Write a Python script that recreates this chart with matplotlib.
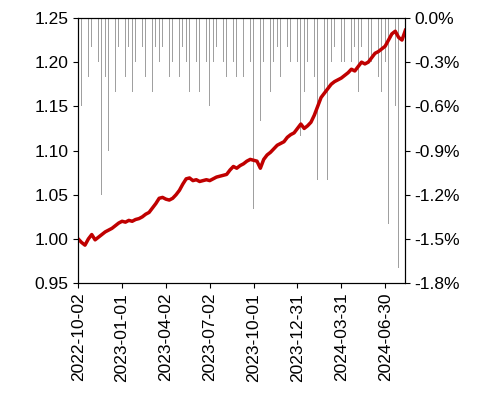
import matplotlib
matplotlib.use("Agg")
import matplotlib.pyplot as plt
import matplotlib.dates as mdates
import pandas as pd
from matplotlib.ticker import FuncFormatter

plt.rcParams['font.family'] = ['Liberation Sans', 'DejaVu Sans']

start = "2022-10-02"
nav = [1.000,0.996,0.993,1.000,1.005,
       0.999,1.002,1.005,1.008,
       1.010,1.012,1.015,1.018,
       1.020,1.019,1.021,1.020,1.022,
       1.023,1.025,1.028,1.030,
       1.035,1.040,1.046,1.047,
       1.045,1.044,1.046,1.050,1.055,
       1.062,1.068,1.069,1.066,
       1.067,1.065,1.066,1.067,
       1.066,1.068,1.070,1.071,1.072,
       1.073,1.078,1.082,1.080,
       1.083,1.085,1.088,1.090,
       1.089,1.088,1.080,1.090,1.095,
       1.098,1.102,1.106,1.108,
       1.110,1.115,1.118,1.120,1.125,
       1.130,1.125,1.128,1.132,
       1.140,1.150,1.160,1.165,
       1.170,1.175,1.178,1.180,1.182,
       1.185,1.188,1.192,1.190,
       1.195,1.200,1.198,1.200,
       1.205,1.210,1.212,1.215,1.218,
       1.225,1.232,1.235,1.228,
       1.225,1.236]
drawdown = [-0.3,-0.6,-0.8,-0.4,-0.2,
            -0.5,-0.3,-1.2,-0.4,
            -0.9,-0.3,-0.5,-0.2,
            -0.3,-0.4,-0.2,-0.5,-0.3,
            -0.7,-0.2,-0.4,-0.3,
            -0.5,-0.2,-0.3,-0.2,
            -0.6,-0.4,-0.3,-0.2,-0.4,
            -0.2,-0.3,-0.5,-0.4,
            -0.3,-0.5,-0.2,-0.3,
            -0.6,-0.3,-0.2,-0.4,-0.3,
            -0.4,-0.2,-0.3,-0.4,
            -0.3,-0.4,-0.2,-0.3,
            -1.3,-0.5,-0.7,-0.3,-0.2,
            -0.5,-0.3,-0.2,-0.4,
            -0.4,-0.2,-0.3,-0.2,-0.3,
            -0.8,-0.5,-0.3,-0.2,
            -0.4,-1.1,-0.3,-0.5,
            -1.1,-0.3,-0.2,-0.4,-0.3,
            -0.3,-0.2,-0.3,-0.2,
            -0.5,-0.2,-0.4,-0.3,
            -0.3,-0.2,-0.4,-0.5,-0.3,
            -1.4,-0.4,-0.6,-1.7,
            -0.8,-0.5]
dates = pd.date_range(start, periods=len(nav), freq="7D")
ticks = pd.date_range(start, periods=8, freq="91D")

fig = plt.figure(figsize=(4.89, 4.08), dpi=100)
ax = fig.add_axes([0.16, 0.306, 0.668, 0.65])
ax2 = ax.twinx()
ax2.bar(dates, drawdown, width=1.5, color="#a0a0a0", zorder=1)
ax2.set_ylim(-1.8, 0)
ax2.set_yticks([-1.8,-1.5,-1.2,-0.9,-0.6,-0.3,0.0])
ax2.yaxis.set_major_formatter(FuncFormatter(lambda v, p: f"{v:.1f}%"))
ax.set_zorder(ax2.get_zorder() + 1)
ax.patch.set_visible(False)
ax.plot(dates, nav, color="#c00000", lw=2.5)
ax.set_ylim(0.95, 1.25)
ax.set_yticks([0.95,1.00,1.05,1.10,1.15,1.20,1.25])
ax.yaxis.set_major_formatter(FuncFormatter(lambda v, p: f"{v:.2f}"))
ax.set_xlim(pd.Timestamp(start), pd.Timestamp("2024-08-10"))
ax.set_xticks(ticks)
ax.xaxis.set_major_formatter(mdates.DateFormatter("%Y-%m-%d"))
for lab in ax.get_xticklabels():
    lab.set_rotation(90)
for a in (ax, ax2):
    a.tick_params(labelsize=12.5, direction="out")
fig.savefig("out.png", dpi=100)
